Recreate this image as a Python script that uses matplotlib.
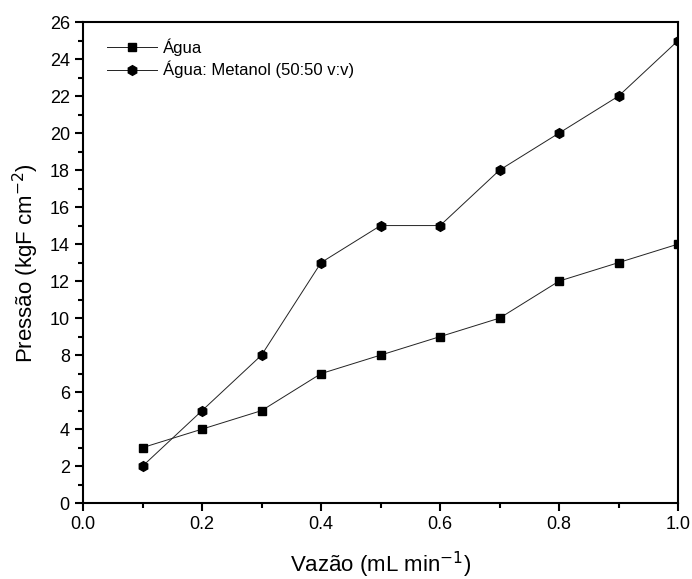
import matplotlib
matplotlib.use("Agg")
import matplotlib.pyplot as plt
from matplotlib.ticker import MultipleLocator

plt.rcParams['font.family'] = ['Liberation Sans', 'DejaVu Sans']

# === DATA ===
vazao = [0.1, 0.2, 0.3, 0.4, 0.5, 0.6, 0.7, 0.8, 0.9, 1.0]
agua = [3, 4, 5, 7, 8, 9, 10, 12, 13, 14]
agua_metanol = [2, 5, 8, 13, 15, 15, 18, 20, 22, 25]

# === PLOT ===
fig = plt.figure(figsize=(6.92, 5.79), dpi=100)
ax = fig.add_axes([0.120, 0.131, 0.860, 0.831])

ax.plot(vazao, agua, color="#222222", lw=0.7, marker="s", ms=6,
        mfc="black", mec="black", label="Água")
ax.plot(vazao, agua_metanol, color="#222222", lw=0.7, marker="h", ms=7,
        mfc="black", mec="black", label="Água: Metanol (50:50 v:v)")

ax.set_xlim(0, 1.0)
ax.set_ylim(0, 26)
ax.xaxis.set_major_locator(MultipleLocator(0.2))
ax.xaxis.set_minor_locator(MultipleLocator(0.1))
ax.yaxis.set_major_locator(MultipleLocator(2))
ax.yaxis.set_minor_locator(MultipleLocator(1))
ax.tick_params(which="major", direction="out", length=6, width=1.5, labelsize=13)
ax.tick_params(which="minor", direction="out", length=3.5, width=1.5)
for s in ax.spines.values():
    s.set_linewidth(1.5)

ax.set_xlabel("Vazão (mL min$^{-1}$)", fontsize=16, labelpad=12)
ax.set_ylabel("Pressão (kgF cm$^{-2}$)", fontsize=16, labelpad=6)

ax.legend(loc="upper left", frameon=False, fontsize=12, handlelength=3,
          bbox_to_anchor=(0.02, 0.99), borderaxespad=0.3, labelspacing=0.3,
          handletextpad=0.4)

plt.savefig("out.png", dpi=100)
plt.close()
